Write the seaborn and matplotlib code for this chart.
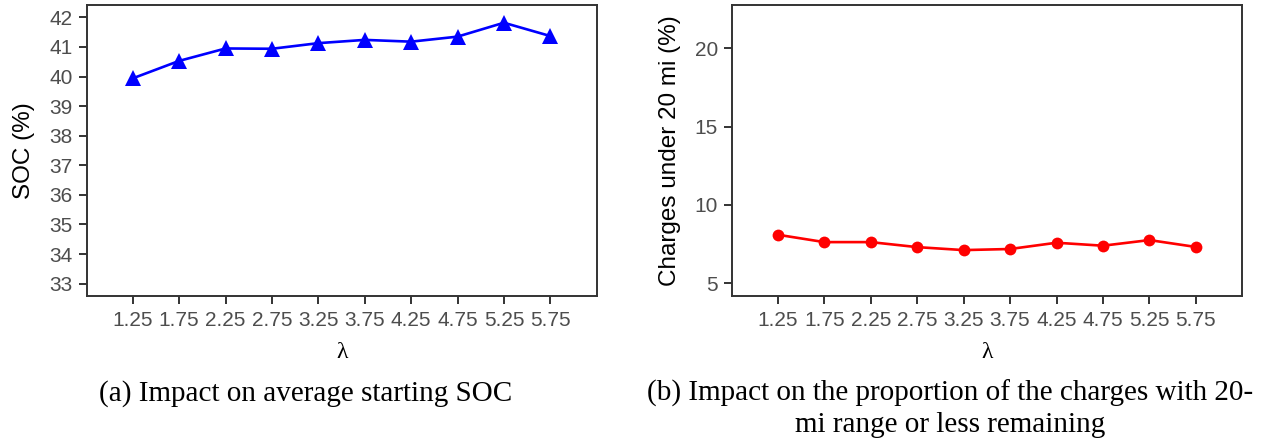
import matplotlib
matplotlib.use("Agg")
import matplotlib.pyplot as plt
import seaborn as sns
import pandas as pd

# λ values (shared x axis)
lam = [1.25, 1.75, 2.25, 2.75, 3.25, 3.75, 4.25, 4.75, 5.25, 5.75]
lam_labels = ["1.25", "1.75", "2.25", "2.75", "3.25", "3.75", "4.25", "4.75", "5.25", "5.75"]

# average starting SOC (%)
soc = [39.94, 40.53, 40.95, 40.94, 41.13, 41.24, 41.18, 41.35, 41.82, 41.37]

# share of charges started with 20 mi or less remaining (%)
under20 = [8.10, 7.63, 7.63, 7.31, 7.12, 7.19, 7.59, 7.40, 7.76, 7.32]

soc_ticks = [33, 34, 35, 36, 37, 38, 39, 40, 41, 42]
under20_ticks = [5, 10, 15, 20]

caption_a = "(a) Impact on average starting SOC"
caption_b1 = "(b) Impact on the proportion of the charges with 20-"
caption_b2 = "mi range or less remaining"

sns.set_style("white")
plt.rcParams["font.family"] = ["Liberation Sans", "DejaVu Sans"]

W, H = 1272, 442
fig = plt.figure(figsize=(W / 100, H / 100), dpi=100)

def px_axes(x0, x1, y0, y1):
    return fig.add_axes([x0 / W, 1 - y1 / H, (x1 - x0) / W, (y1 - y0) / H])

ax1 = px_axes(87.3, 596.7, 4.7, 295.7)
ax2 = px_axes(732.3, 1242.3, 4.7, 295.7)

df = pd.DataFrame({"lam": lam, "soc": soc, "under20": under20})

sns.lineplot(data=df, x="lam", y="soc", ax=ax1, color="#0000FF", linewidth=1.9,
             marker="^", markersize=11, markeredgewidth=0, markeredgecolor="#0000FF")
sns.lineplot(data=df, x="lam", y="under20", ax=ax2, color="#FF0000", linewidth=1.9,
             marker="o", markersize=8.5, markeredgewidth=0, markeredgecolor="#FF0000")

ax1.set_ylim(32.59, 42.43)
ax2.set_ylim(4.21, 22.78)
ax1.set_yticks(soc_ticks)
ax2.set_yticks(under20_ticks)

for ax, ylab, ylab_x in ((ax1, "SOC (%)", 23.6), (ax2, "Charges under 20 mi (%)", 670.0)):
    ax.set_xlim(lam[0] - 0.49, lam[-1] + 0.5)
    ax.set_xticks(lam)
    ax.set_xticklabels(lam_labels)
    ax.tick_params(axis="both", which="major", direction="out", length=5.8, width=1.4,
                   color="#333333", labelcolor="#4D4D4D", labelsize=15, pad=4.5,
                   bottom=True, left=True)
    ax.tick_params(axis="x", pad=5.5)
    for s in ax.spines.values():
        s.set_visible(True)
        s.set_color("#333333")
        s.set_linewidth(1.4)
    ax.grid(False)
    ax.set_ylabel(ylab, fontsize=17.5, color="black", va="center")
    bb = ax.get_position()
    ax.yaxis.set_label_coords((ylab_x / W - bb.x0) / bb.width, 0.5)
    ax.set_xlabel("λ", fontsize=17, color="black", family=["Liberation Serif", "DejaVu Serif"],
                  va="center")
    ax.xaxis.set_label_coords(0.5, (1 - 353 / H - bb.y0) / bb.height)

serif = ["Liberation Serif", "DejaVu Serif"]
fig.text(306 / W, 1 - 400.7 / H, caption_a, ha="center", va="baseline",
         fontsize=21, family=serif, color="black")
fig.text(950 / W, 1 - 400.7 / H, caption_b1, ha="center", va="baseline",
         fontsize=21, family=serif, color="black")
fig.text(950 / W, 1 - 431.7 / H, caption_b2, ha="center", va="baseline",
         fontsize=21, family=serif, color="black")

fig.savefig("out.png", dpi=100, facecolor="white")
